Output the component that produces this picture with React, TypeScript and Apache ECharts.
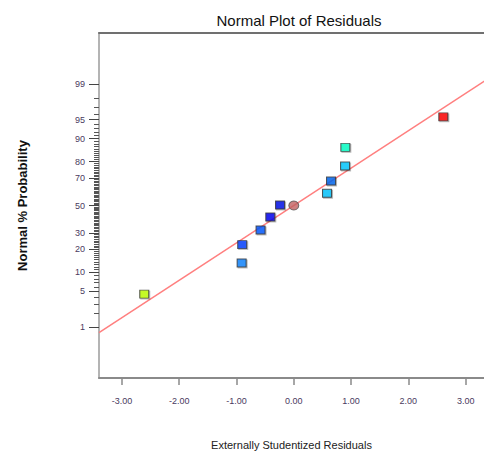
import React, { useEffect, useRef } from "react";
import * as echarts from "echarts";

// Externally studentized residuals (x) and normal % probability (y)
const residuals = [-2.61, -0.91, -0.9, -0.58, -0.41, -0.24, 0.58, 0.65, 0.895, 0.9, 2.61];
const probabilities = [4.5, 13.6, 22.7, 32.0, 41.3, 50.4, 59.2, 68.0, 77.5, 86.7, 95.5];
const pointColors = ["#bfff00", "#0a84ff", "#0040ff", "#0058ff", "#0000f0", "#0010e8", "#00c4ff", "#0068f0", "#00c8ff", "#00ffc4", "#ff0000"];
// highlighted point (circle)
const circleResidual = [0.0];
const circleProbability = [50.0];
// fitted reference line end points
const fitLineX = [-3.4, 3.4];
const fitLineProb = [0.75, 99.25];

const xTicks = [-3, -2, -1, 0, 1, 2, 3];
const yMajorPct = [1, 5, 10, 20, 30, 50, 70, 80, 90, 95, 99];
const yMinorPct = [2, 3, 4, 6, 7, 8, 9, 11, 12, 13, 14, 15, 16, 17, 18, 19, 21, 22, 23, 24, 25, 26, 27, 28, 29,
  31, 32, 33, 34, 35, 36, 37, 38, 39, 40, 41, 42, 43, 44, 45, 46, 47, 48, 49, 51, 52, 53, 54, 55, 56, 57, 58, 59, 60,
  61, 62, 63, 64, 65, 66, 67, 68, 69, 71, 72, 73, 74, 75, 76, 77, 78, 79, 81, 82, 83, 84, 85, 86, 87, 88, 89,
  91, 92, 93, 94, 96, 97, 98];

// inverse standard normal CDF (Acklam), p in (0,1)
function probit(p: number): number {
  const a = [-3.969683028665376e1, 2.209460984245205e2, -2.759285104469687e2, 1.38357751867269e2, -3.066479806614716e1, 2.506628277459239];
  const b = [-5.447609879822406e1, 1.615858368580409e2, -1.556989798598866e2, 6.680131188771972e1, -1.328068155288572e1];
  const c = [-7.784894002430293e-3, -3.223964580411365e-1, -2.400758277161838, -2.549732539343734, 4.374664141464968, 2.938163982698783];
  const d = [7.784695709041462e-3, 3.224671290700398e-1, 2.445134137142996, 3.754408661907416];
  const pl = 0.02425;
  let q: number, r: number;
  if (p < pl) {
    q = Math.sqrt(-2 * Math.log(p));
    return (((((c[0] * q + c[1]) * q + c[2]) * q + c[3]) * q + c[4]) * q + c[5]) / ((((d[0] * q + d[1]) * q + d[2]) * q + d[3]) * q + 1);
  }
  if (p > 1 - pl) {
    q = Math.sqrt(-2 * Math.log(1 - p));
    return -(((((c[0] * q + c[1]) * q + c[2]) * q + c[3]) * q + c[4]) * q + c[5]) / ((((d[0] * q + d[1]) * q + d[2]) * q + d[3]) * q + 1);
  }
  q = p - 0.5;
  r = q * q;
  return ((((((a[0] * r + a[1]) * r + a[2]) * r + a[3]) * r + a[4]) * r + a[5]) * q) / (((((b[0] * r + b[1]) * r + b[2]) * r + b[3]) * r + b[4]) * r + 1);
}
const z = (pct: number) => probit(pct / 100);

const FONT = "'Liberation Sans', Arial, sans-serif";
const X_MIN = -3.4, X_MAX = 3.32, Y_MIN = -3.3, Y_MAX = 3.3;

export default function App() {
  const ref = useRef<HTMLDivElement>(null);
  useEffect(() => {
    if (!ref.current) return;
    const chart = echarts.init(ref.current, null, { renderer: "svg" });
    const majorZ = yMajorPct.map(z);
    const option: any = {
      animation: false,
      backgroundColor: "#ffffff",
      title: {
        text: "Normal Plot of Residuals",
        left: 294,
        textAlign: "center",
        top: 8,
        textStyle: { fontFamily: FONT, fontSize: 15, fontWeight: "normal", color: "#111" },
      },
      grid: { left: 99, top: 33, width: 385, height: 347, containLabel: false },
      xAxis: [
        {
          type: "value",
          min: X_MIN,
          max: X_MAX,
          position: "bottom",
          name: "Externally Studentized Residuals",
          nameLocation: "middle",
          nameGap: 61,
          nameTextStyle: { fontFamily: FONT, fontSize: 11, color: "#222", padding: [0, 0, 0, 0] },
          axisLine: { show: true, onZero: false, lineStyle: { color: "#8a8a8a", width: 2 } },
          axisTick: { show: true, length: 7, customValues: xTicks, lineStyle: { color: "#8a8a8a", width: 1.5 } },
          axisLabel: {
            customValues: xTicks,
            margin: 18,
            fontFamily: FONT,
            fontSize: 9,
            color: "#4a3a60",
            formatter: (v: number) => v.toFixed(2),
          },
          splitLine: { show: false },
        },
        {
          type: "value",
          min: X_MIN,
          max: X_MAX,
          position: "top",
          axisLine: { show: true, onZero: false, lineStyle: { color: "#707070", width: 2 } },
          axisTick: { show: false },
          axisLabel: { show: false },
          splitLine: { show: false },
        },
      ],
      yAxis: [
        {
          type: "value",
          min: Y_MIN,
          max: Y_MAX,
          position: "left",
          name: "Normal % Probability",
          nameLocation: "middle",
          nameGap: 70,
          nameTextStyle: { fontFamily: FONT, fontSize: 13, fontWeight: "bold", color: "#111" },
          axisLine: { show: true, onZero: false, lineStyle: { color: "#b4b4b4", width: 2 } },
          axisTick: { show: true, length: 10, customValues: majorZ, lineStyle: { color: "#444", width: 1 } },
          axisLabel: {
            customValues: majorZ,
            margin: 14,
            fontFamily: FONT,
            fontSize: 9,
            color: "#4a3a60",
            formatter: (v: number) => {
              let best = 0;
              let bd = Infinity;
              majorZ.forEach((m, i) => {
                const dd = Math.abs(m - v);
                if (dd < bd) { bd = dd; best = i; }
              });
              return String(yMajorPct[best]);
            },
          },
          splitLine: { show: false },
        },
        {
          type: "value",
          min: Y_MIN,
          max: Y_MAX,
          position: "left",
          offset: 0,
          axisLine: { show: false, onZero: false },
          axisTick: { show: true, length: 5, customValues: yMinorPct.map(z), lineStyle: { color: "#555", width: 1 } },
          axisLabel: { show: false },
          splitLine: { show: false },
        },
      ],
      series: [
        {
          type: "line",
          xAxisIndex: 0,
          yAxisIndex: 0,
          data: fitLineX.map((x, i) => [x, z(fitLineProb[i])]),
          symbol: "none",
          lineStyle: { color: "#ff7f7f", width: 1.5 },
          clip: true,
          silent: true,
          z: 1,
        },
        {
          type: "scatter",
          xAxisIndex: 0,
          yAxisIndex: 0,
          symbol: "rect",
          symbolSize: [9, 8],
          data: residuals.map((x, i) => ({
            value: [x, z(probabilities[i])],
            itemStyle: { color: pointColors[i] },
          })),
          itemStyle: {
            borderColor: "#333",
            borderWidth: 1,
            shadowColor: "rgba(0,0,0,0.3)",
            shadowBlur: 1,
            shadowOffsetX: 1,
            shadowOffsetY: 1,
          },
          z: 3,
        },
        {
          type: "scatter",
          xAxisIndex: 0,
          yAxisIndex: 0,
          symbol: "circle",
          symbolSize: [10, 9],
          data: circleResidual.map((x, i) => [x, z(circleProbability[i])]),
          itemStyle: { color: "#c06060", borderColor: "#555", borderWidth: 1 },
          z: 4,
        },
      ],
    };
    chart.setOption(option);
    return () => chart.dispose();
  }, []);
  return (
    <div
      ref={ref}
      style={{ position: "absolute", left: 0, top: 0, width: 484, height: 455, overflow: "hidden" }}
    />
  );
}
